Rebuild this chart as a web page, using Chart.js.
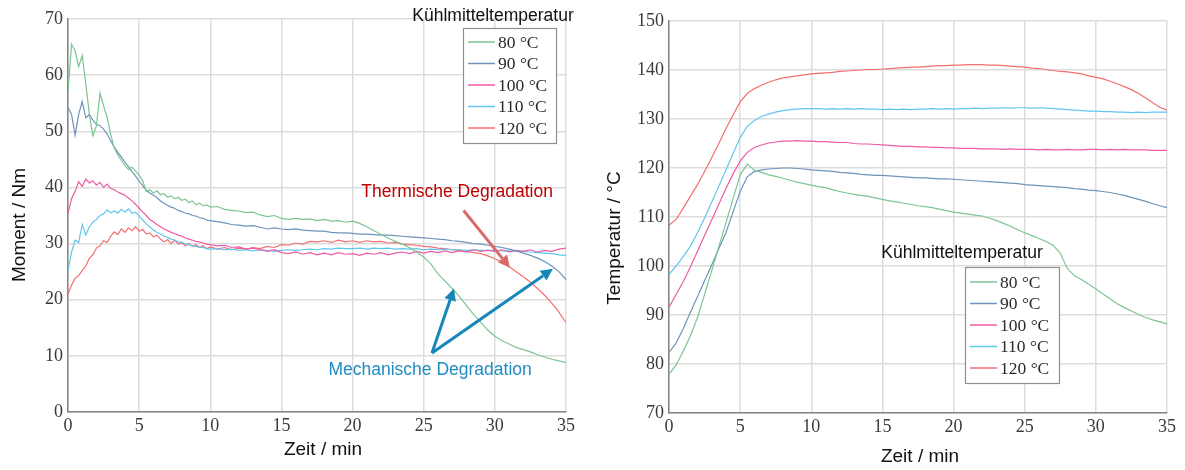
<!DOCTYPE html>
<html>
<head>
<meta charset="utf-8">
<script src="https://cdn.jsdelivr.net/npm/chart.js@4.4.1/dist/chart.umd.min.js"></script>
<style>
  body { margin: 0; background: #fff; }
  #wrap { position: relative; width: 1185px; height: 470px; }
  canvas { position: absolute; top: 0; }
  #moment { left: 0; }
  #temp { left: 600px; }
</style>
</head>
<body>
<div id="wrap">
  <canvas id="moment" width="590" height="470"></canvas>
  <canvas id="temp" width="585" height="470"></canvas>
</div>
<script>
// time axis, left chart (finer steps in the first 10 min)
const timeL = [0,0.25,0.5,0.75,1,1.25,1.5,1.75,2,2.25,2.5,2.75,3,3.25,3.5,3.75,4,4.25,4.5,4.75,5,5.25,5.5,5.75,6,6.25,6.5,6.75,7,7.25,7.5,7.75,8,8.25,8.5,8.75,9,9.25,9.5,9.75,10,
  10.5,11,11.5,12,12.5,13,13.5,14,14.5,15,15.5,16,16.5,17,17.5,18,18.5,19,19.5,20,
  20.5,21,21.5,22,22.5,23,23.5,24,24.5,25,25.5,26,26.5,27,27.5,28,28.5,29,29.5,30,30.5,31,31.5,32,32.5,33,33.5,34,34.5,35];

// Moment / Nm
const m80 = [57,65.5,64.3,61.5,63.5,58.5,53,49.2,51,56.8,54.5,52.5,49.5,47,45.8,44.8,43.9,43.2,43.6,42.9,42.2,41.2,39.3,39.6,39.0,39.4,38.7,38.9,38.3,38.5,38.0,38.2,37.7,37.9,37.3,37.6,36.9,37.2,36.7,36.9,36.5,
  36.6,36.1,35.9,35.8,35.5,35.6,35.1,34.8,35.0,34.5,34.3,34.5,34.3,34.4,34.1,34.3,34.0,34.1,33.8,34.0,
  33.6,33.0,32.3,31.6,31.0,30.4,29.9,29.3,28.5,27.6,26.4,24.6,23.3,22.0,20.6,19.0,17.4,16.0,14.6,13.5,12.7,12.1,11.5,11.1,10.7,10.2,9.8,9.4,9.1,8.8];
const m90 = [54.3,53.0,49.3,53.0,55.3,52.4,53.0,52.0,51.2,51.0,50.4,49.5,48.3,47.2,46.3,45.4,44.5,43.7,42.8,42.0,41.1,40.3,39.5,39.0,38.6,38.2,37.6,37.2,36.8,36.5,36.3,35.9,35.7,35.4,35.3,35.0,34.9,34.6,34.5,34.2,34.1,
  33.9,33.7,33.4,33.3,33.1,33.2,32.9,32.6,32.8,32.6,32.5,32.6,32.4,32.3,32.2,32.2,32.0,31.9,31.9,31.8,
  31.7,31.7,31.6,31.5,31.5,31.4,31.3,31.2,31.1,31.0,30.9,30.8,30.7,30.5,30.4,30.2,30.0,29.9,29.7,29.5,29.3,29.0,28.7,28.3,27.9,27.4,26.8,26.0,25.0,23.6];
const m100 = [35.4,38.0,39.3,41.0,40.2,41.5,40.8,41.2,40.4,40.9,40.0,40.6,39.8,39.6,39.2,38.9,38.6,38.1,37.6,37.0,36.3,35.6,35.0,34.3,33.9,33.4,33.0,32.6,32.3,32.0,31.8,31.5,31.3,31.0,30.8,30.6,30.4,30.3,30.1,29.9,29.8,
  29.6,29.7,29.3,29.4,29.0,29.2,28.9,28.6,28.9,28.4,28.2,28.5,28.1,28.4,28.0,28.3,28.0,28.4,28.1,28.2,
  27.9,28.3,28.1,28.4,28.0,28.3,28.5,28.2,28.6,28.3,28.6,28.4,28.7,28.4,28.7,28.5,28.9,28.6,28.8,28.6,28.9,28.5,28.8,28.6,28.9,28.5,28.8,28.6,29.0,29.2];
const m110 = [25.2,28.5,30.6,30.2,33.4,31.5,33.0,33.8,34.3,35.0,35.3,36.0,35.5,35.8,35.4,36.1,35.6,36.2,35.4,35.6,34.9,34.2,33.5,33.0,32.4,32.0,31.7,31.3,31.1,30.8,30.6,30.3,30.2,29.9,29.8,29.6,29.5,29.3,29.3,29.1,29.0,
  29.1,28.9,29.0,28.8,28.9,28.7,28.9,28.8,28.6,28.8,28.9,28.8,28.9,29.0,28.9,29.1,29.0,29.2,29.1,29.1,
  29.2,29.0,29.2,29.1,29.2,29.0,29.1,29.0,29.1,28.9,29.0,28.9,29.0,28.9,28.9,28.8,28.9,28.8,28.8,28.8,28.7,28.7,28.6,28.6,28.5,28.4,28.3,28.2,28.0,27.9];
const m120 = [21.0,22.6,23.8,24.3,25.2,26.0,27.4,28.0,29.2,29.6,30.5,30.2,31.3,32.1,31.6,32.6,32.0,32.8,32.3,33.0,32.2,32.5,31.7,31.9,31.2,31.5,30.8,30.3,30.7,30.0,30.6,29.9,30.1,29.6,30.0,29.5,29.8,29.3,29.6,29.1,29.4,
  29.0,29.3,28.9,29.2,29.0,29.3,29.1,29.5,29.3,29.8,29.7,30.1,29.9,30.4,30.3,30.5,30.2,30.6,30.3,30.5,
  30.2,30.5,30.3,30.4,30.1,30.2,29.9,29.8,29.7,29.5,29.4,29.2,29.1,28.9,28.8,28.6,28.4,28.2,27.8,27.3,26.7,25.9,25.0,24.1,23.1,22.0,20.8,19.4,17.8,15.9];

// time axis, right chart
const timeR = [0,0.5,1,1.5,2,2.5,3,3.5,4,4.5,5,5.5,6,6.5,7,7.5,8,8.5,9,9.5,10,
  10.5,11,11.5,12,12.5,13,13.5,14,14.5,15,15.5,16,16.5,17,17.5,18,18.5,19,19.5,20,
  20.5,21,21.5,22,22.5,23,23.5,24,24.5,25,25.5,26,26.5,27,27.5,28,28.5,29,29.5,30,30.5,31,31.5,32,32.5,33,33.5,34,34.5,35];

// Temperatur / °C
const t80 = [77.9,79.8,82.6,85.7,89.5,94.2,99.0,103.9,108.8,113.7,118.6,120.8,119.6,119.1,118.6,118.3,117.9,117.5,117.1,116.8,116.5,
  116.2,116.0,115.6,115.2,114.9,114.6,114.4,114.2,113.9,113.6,113.3,113.1,112.8,112.6,112.3,112.1,111.9,111.6,111.3,111.0,
  110.8,110.6,110.4,110.2,109.8,109.3,108.7,108.1,107.4,106.8,106.2,105.6,105.0,104.2,102.6,99.5,98.0,97.2,96.3,95.3,94.3,93.3,92.3,91.5,90.8,90.1,89.5,89.0,88.6,88.2];
const t90 = [82.3,84.3,87.2,90.5,93.7,97.0,100.2,103.5,106.8,111.0,115.2,118.2,119.3,119.6,119.8,119.9,120.0,120.0,119.9,119.8,119.6,
  119.5,119.4,119.3,119.1,119.0,118.9,118.7,118.6,118.5,118.5,118.4,118.3,118.2,118.1,118.0,118.0,117.9,117.8,117.8,117.7,
  117.6,117.5,117.4,117.3,117.2,117.1,117.0,116.9,116.8,116.6,116.5,116.4,116.3,116.2,116.1,116.0,115.8,115.7,115.5,115.4,115.2,115.0,114.7,114.4,114.0,113.6,113.2,112.7,112.3,111.9];
const t100 = [91.6,94.2,96.8,99.8,103.0,106.2,109.4,112.6,115.8,118.8,121.4,123.2,124.2,124.7,125.1,125.3,125.5,125.5,125.6,125.5,125.5,
  125.4,125.4,125.3,125.2,125.2,125.0,124.9,124.9,124.8,124.7,124.6,124.5,124.4,124.4,124.3,124.3,124.2,124.2,124.1,124.1,
  124.0,124.0,124.0,123.9,123.9,123.9,123.8,123.9,123.8,123.8,123.8,123.7,123.8,123.7,123.7,123.8,123.7,123.7,123.8,123.8,123.7,123.8,123.7,123.8,123.7,123.7,123.7,123.6,123.6,123.6];
const t110 = [98.3,100.0,101.9,104.0,106.8,109.8,113.0,116.3,119.6,122.9,126.2,128.5,129.7,130.5,131.0,131.4,131.7,131.9,132.0,132.1,132.1,
  132.1,132.0,132.1,132.0,132.1,132.0,132.1,132.0,132.0,131.9,132.0,131.9,132.0,131.9,132.0,132.0,132.1,132.0,132.1,132.0,
  132.1,132.1,132.2,132.1,132.2,132.2,132.3,132.2,132.3,132.3,132.2,132.3,132.2,132.1,132.0,131.9,131.8,131.7,131.6,131.6,131.5,131.5,131.4,131.4,131.3,131.4,131.3,131.4,131.4,131.4];
const t120 = [108.3,109.5,111.8,114.2,116.6,119.3,122.1,125.0,128.0,130.8,133.5,135.2,136.2,136.9,137.5,138.0,138.4,138.6,138.8,139.0,139.2,
  139.3,139.4,139.5,139.7,139.8,139.9,140.0,140.1,140.1,140.2,140.3,140.4,140.5,140.6,140.6,140.7,140.8,140.9,140.9,141.0,
  141.0,141.1,141.1,141.1,141.0,141.0,140.9,140.8,140.7,140.6,140.4,140.3,140.1,139.9,139.7,139.6,139.4,139.2,138.8,138.5,138.2,137.7,137.2,136.6,136.0,135.2,134.3,133.3,132.4,131.8];

const seriesLabels = ['80 °C', '90 °C', '100 °C', '110 °C', '120 °C'];
const seriesColors = ['#7cc592', '#6f94ba', '#ec5ca5', '#62c5f0', '#f36f6f'];
const xTicks = [0, 5, 10, 15, 20, 25, 30, 35];

const sans = '"Liberation Sans", Arial, sans-serif';
const serif = '"Liberation Serif", "Times New Roman", serif';

function points (time, vals) {
  return vals.map((v, i) => ({ x: time[i], y: v }));
}

function arrow (ctx, x1, y1, x2, y2, color, width, head) {
  const a = Math.atan2(y2 - y1, x2 - x1);
  const bx = x2 - head * Math.cos(a), by = y2 - head * Math.sin(a);
  ctx.strokeStyle = color;
  ctx.fillStyle = color;
  ctx.lineWidth = width;
  ctx.beginPath(); ctx.moveTo(x1, y1); ctx.lineTo(bx, by); ctx.stroke();
  ctx.beginPath();
  ctx.moveTo(x2, y2);
  ctx.lineTo(bx + head * 0.5 * Math.sin(a), by - head * 0.5 * Math.cos(a));
  ctx.lineTo(bx - head * 0.5 * Math.sin(a), by + head * 0.5 * Math.cos(a));
  ctx.closePath(); ctx.fill();
}

// axis titles, legend box and annotations drawn on top of the plot
const overlay = {
  id: 'overlay',
  afterDatasetsDraw (chart, args, opts) {
    const ctx = chart.ctx;
    const lg = opts.legend;
    const xs = chart.scales.x, ys = chart.scales.y;
    ctx.save();
    ctx.textBaseline = 'middle';
    ctx.textAlign = 'center';

    // axis titles
    ctx.font = '19px ' + sans;
    ctx.fillStyle = '#111';
    ctx.fillText('Zeit / min', opts.xTitle[0], opts.xTitle[1]);
    ctx.save();
    ctx.translate(opts.yTitle[0], opts.yTitle[1]);
    ctx.rotate(-Math.PI / 2);
    ctx.fillText(opts.yTitle[2], 0, 0);
    ctx.restore();

    (opts.arrows || []).forEach(a => {
      arrow(ctx, xs.getPixelForValue(a.from[0]), ys.getPixelForValue(a.from[1]),
        xs.getPixelForValue(a.to[0]), ys.getPixelForValue(a.to[1]), a.color, 3, 12);
    });
    (opts.notes || []).forEach(n => {
      ctx.font = '17.5px ' + sans;
      ctx.fillStyle = n.color;
      ctx.fillText(n.text, xs.getPixelForValue(n.x), ys.getPixelForValue(n.y));
    });

    ctx.font = '17.5px ' + sans;
    ctx.fillStyle = '#111';
    ctx.fillText('Kühlmitteltemperatur', lg.titleX, lg.titleY);

    ctx.fillStyle = '#fff';
    ctx.fillRect(lg.x, lg.y, lg.w, lg.h);
    ctx.strokeStyle = '#8f8f8f';
    ctx.lineWidth = 1.2;
    ctx.strokeRect(lg.x + 0.5, lg.y + 0.5, lg.w, lg.h);

    chart.data.datasets.forEach((ds, i) => {
      const y = lg.rowY + i * lg.rowStep;
      ctx.strokeStyle = ds.borderColor;
      ctx.lineWidth = 1.5;
      ctx.beginPath(); ctx.moveTo(lg.x + 5, y); ctx.lineTo(lg.x + 32, y); ctx.stroke();
      ctx.font = '17.5px ' + serif;
      ctx.fillStyle = '#2a2a2a';
      ctx.textAlign = 'left';
      ctx.fillText(ds.label, lg.x + 35, y + 1);
    });
    ctx.restore();
  }
};

function makeChart (id, time, series, yr, cfg) {
  return new Chart(document.getElementById(id), {
    type: 'line',
    data: {
      datasets: series.map((s, i) => ({
        label: seriesLabels[i],
        data: points(time, s),
        borderColor: seriesColors[i],
        borderWidth: 1.2,
        pointRadius: 0,
        tension: 0,
        fill: false
      }))
    },
    options: {
      responsive: false,
      animation: false,
      devicePixelRatio: 1,
      layout: { padding: cfg.padding },
      plugins: {
        legend: { display: false },
        tooltip: { enabled: false },
        overlay: { legend: cfg.legend, notes: cfg.notes, arrows: cfg.arrows, xTitle: cfg.xTitle, yTitle: cfg.yTitle }
      },
      scales: {
        x: {
          type: 'linear', min: 0, max: 35,
          afterBuildTicks (s) { s.ticks = xTicks.map(v => ({ value: v })); },
          afterFit (s) { s.height = cfg.xHeight; },
          ticks: { color: '#3a3a3a', padding: 3, maxRotation: 0, font: { family: serif, size: 18 } },
          grid: { color: '#dddddd', lineWidth: 1.5, drawTicks: false },
          border: { color: '#858585', width: 1.5 }
        },
        y: {
          min: yr[0], max: yr[1],
          afterFit (s) { s.width = cfg.yWidth; },
          ticks: { stepSize: 10, color: '#3a3a3a', padding: 5, font: { family: serif, size: 18 } },
          grid: { color: '#dddddd', lineWidth: 1.5, drawTicks: false },
          border: { color: '#858585', width: 1.5 }
        }
      }
    },
    plugins: [overlay]
  });
}

makeChart('moment', timeL, [m80, m90, m100, m110, m120], [0, 70], {
  padding: { top: 19, right: 24, left: 0, bottom: 0 },
  xHeight: 58, yWidth: 68,
  xTitle: [323, 450], yTitle: [20, 225, 'Moment / Nm'],
  legend: { x: 463, y: 28, w: 93, h: 115, titleX: 493, titleY: 16, rowY: 42, rowStep: 21.5 },
  notes: [
    { text: 'Thermische Degradation', x: 27.35, y: 39.1, color: '#c00000' },
    { text: 'Mechanische Degradation', x: 25.45, y: 7.5, color: '#1f8cc2' }
  ],
  arrows: [
    { from: [27.8, 35.9], to: [31.06, 25.7], color: '#d86a6a' },
    { from: [25.58, 10.5], to: [27.13, 22.0], color: '#1687b9' },
    { from: [25.58, 10.5], to: [34.08, 25.5], color: '#1687b9' }
  ]
});

makeChart('temp', timeR, [t80, t90, t100, t110, t120], [70, 150], {
  padding: { top: 21, right: 18, left: 0, bottom: 0 },
  xHeight: 57, yWidth: 69,
  xTitle: [320, 457], yTitle: [15, 238, 'Temperatur / °C'],
  legend: { x: 365, y: 267, w: 94, h: 116, titleX: 362, titleY: 253, rowY: 282, rowStep: 21.5 },
  notes: [],
  arrows: []
});
</script>
</body>
</html>
